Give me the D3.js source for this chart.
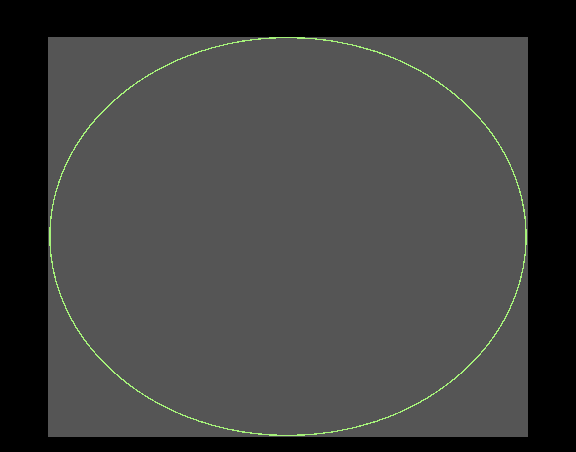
<!DOCTYPE html>
<html><head><meta charset="utf-8">
<script src="https://cdn.jsdelivr.net/npm/d3@7"></script>
<style>body{margin:0;background:#000}</style>
</head><body>
<svg id="chart" width="576" height="452"></svg>
<script>
// unit circle
const centre = [0, 0];
const radius = [1];
const xDomain = [-1.008, 1.008];
const yDomain = [-1.0075, 1.0025];

const svg = d3.select("#chart"),
      margin = {top: 37, right: 48, bottom: 15, left: 48},
      width = +svg.attr("width") - margin.left - margin.right,
      height = +svg.attr("height") - margin.top - margin.bottom;

svg.append("rect").attr("width", 576).attr("height", 452).attr("fill", "#000");

const g = svg.append("g").attr("transform", `translate(${margin.left},${margin.top})`);

g.append("rect").attr("width", width).attr("height", height).attr("fill", "#555555");

const x = d3.scaleLinear().domain(xDomain).range([0, width]);
const y = d3.scaleLinear().domain(yDomain).range([height, 0]);

g.append("ellipse")
  .attr("cx", x(centre[0]))
  .attr("cy", y(centre[1]))
  .attr("rx", x(radius[0]) - x(centre[0]))
  .attr("ry", y(centre[1]) - y(radius[0]))
  .attr("fill", "none")
  .attr("stroke", "#a6f27a")
  .attr("stroke-width", 1.3)
  .attr("shape-rendering", "crispEdges");
</script>
</body></html>
